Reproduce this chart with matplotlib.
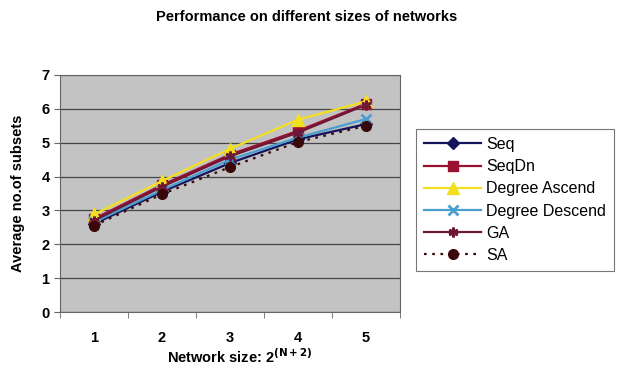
import matplotlib
matplotlib.use("Agg")
import matplotlib.pyplot as plt

categories = ["1", "2", "3", "4", "5"]
seq = [2.6, 3.55, 4.4, 5.1, 5.55]
seqdn = [2.75, 3.75, 4.65, 5.35, 6.15]
deg_asc = [2.88, 3.87, 4.82, 5.68, 6.22]
deg_desc = [2.65, 3.6, 4.5, 5.15, 5.7]
ga = [2.7, 3.7, 4.6, 5.3, 6.12]
sa = [2.55, 3.48, 4.28, 5.02, 5.5]
yticks = [0, 1, 2, 3, 4, 5, 6, 7]

plt.rcParams['font.family'] = ['Liberation Sans', 'DejaVu Sans']
fig = plt.figure(figsize=(6.26, 3.86), dpi=100)
ax = fig.add_axes([60/626, 74/386, 340/626, 237/386])
ax.set_facecolor('#c3c3c3')

x = list(range(1, len(categories) + 1))
series = [
    ("Seq", seq, dict(color='#14145a', marker='D', ms=6, ls='-')),
    ("SeqDn", seqdn, dict(color='#9a1030', marker='s', ms=7, ls='-')),
    ("Degree Ascend", deg_asc, dict(color='#f2e020', marker='^', ms=8, ls='-')),
    ("Degree Descend", deg_desc, dict(color='#4a9fd0', marker='x', ms=7, mew=2, ls='-')),
    ("GA", ga, dict(color='#6e1838', marker=(6, 2, 0), ms=7, mew=2, ls='-')),
    ("SA", sa, dict(color='#3a0808', marker='o', ms=7, ls=(0, (1.2, 2.5)))),
]
for name, vals, st in series:
    ax.plot(x, vals, label=name, lw=1.6, **st)

ax.set_xlim(0.5, 5.5)
ax.set_ylim(0, 7)
ax.set_yticks(yticks)
ax.set_yticklabels([str(v) for v in yticks], fontsize=10.5, fontweight='bold')
ax.set_xticks(x)
ax.set_xticklabels(categories, fontsize=10.5, fontweight='bold')
ax.set_xticks([i + 0.5 for i in range(0, 6)], minor=True)
ax.tick_params(axis='x', which='major', length=0, pad=14)
ax.tick_params(axis='x', which='minor', length=4, color='#666666')
ax.tick_params(axis='y', length=4, color='#666666')
ax.yaxis.grid(True, color='#444444', lw=0.9)
ax.set_axisbelow(True)
for s in ax.spines.values():
    s.set_color('#666666')

ax.set_ylabel("Average no.of subsets", fontsize=10.5, fontweight='bold', labelpad=12)
ax.set_xlabel("Network size: 2$^{\\mathbf{(N+2)}}$", fontsize=10.5, fontweight='bold')
ax.xaxis.set_label_coords(0.53, -0.15)

fig.text(0.49, 0.955, "Performance on different sizes of networks", ha='center', va='center',
         fontsize=10.5, fontweight='bold')

leg = fig.legend(loc='upper left', bbox_to_anchor=(416/626, 1 - 129/386), frameon=True,
                 prop={'size': 11.5}, fancybox=False, edgecolor='#555555', handlelength=3.6,
                 borderpad=0.5, labelspacing=0.45, handletextpad=0.3, borderaxespad=0)
leg.get_frame().set_linewidth(0.8)

fig.savefig("out.png", dpi=100)
